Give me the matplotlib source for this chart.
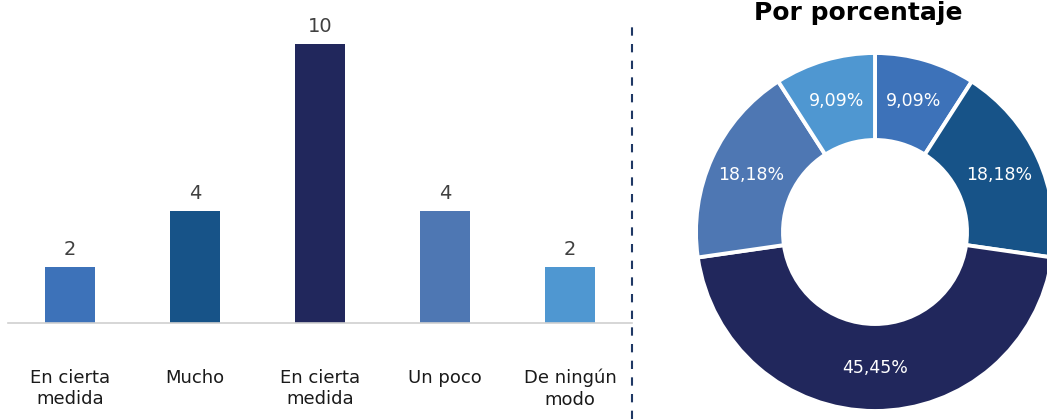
import matplotlib.pyplot as plt
from matplotlib.lines import Line2D

# Data
categories = ['En cierta\nmedida', 'Mucho', 'En cierta\nmedida', 'Un poco', 'De ningún\nmodo']
values = [2, 4, 10, 4, 2]
colors = ['#3D72B9', '#175388', '#21275C', '#4E77B3', '#4F97D1']

W, H = 1047, 419
fig = plt.figure(figsize=(W / 100, H / 100), dpi=100)

# Bar chart (left)
ax = fig.add_axes([7.5 / W, 1 - 323 / H, 625 / W, (323 - 16) / H])
x = range(len(values))
bars = ax.bar(x, values, width=0.4, color=colors)
ax.set_xlim(-0.5, 4.5)
ax.set_ylim(0, 11)
for b, v in zip(bars, values):
    ax.text(b.get_x() + b.get_width() / 2, v + 0.3, str(v), ha='center', va='bottom',
            fontsize=14, color='#404040')
ax.set_xticks(list(x))
ax.set_xticklabels(categories, fontsize=13, color='#1a1a1a', linespacing=1.25)
ax.tick_params(axis='x', length=0, pad=33)
ax.set_yticks([])
for s in ['top', 'right', 'left']:
    ax.spines[s].set_visible(False)
ax.spines['bottom'].set_color('#D0D0D0')
ax.spines['bottom'].set_linewidth(1.2)

# Dashed separator
fig.add_artist(Line2D([632 / W, 632 / W], [0, 1 - 21 / H], transform=fig.transFigure,
                      color='#1F3864', linewidth=1.5, linestyle=(0, (4, 4))))

# Donut chart (right)
cx, cy, r = 875, 232, 179
ax2 = fig.add_axes([(cx - r) / W, 1 - (cy + r) / H, 2 * r / W, 2 * r / H])
wedges, texts, autotexts = ax2.pie(
    values, colors=colors, startangle=90, counterclock=False, radius=1,
    autopct=lambda p: f'{p:.2f}%'.replace('.', ','), pctdistance=0.76,
    wedgeprops=dict(width=0.486, edgecolor='white', linewidth=2.8),
    textprops=dict(color='white', fontsize=12.5))
ax2.set_xlim(-1, 1)
ax2.set_ylim(-1, 1)
ax2.set_aspect('equal')

fig.text(858 / W, 1 - 13 / H, 'Por porcentaje', ha='center', va='center',
         fontsize=18, fontweight='bold', color='black')

fig.savefig('out.png', dpi=100)
